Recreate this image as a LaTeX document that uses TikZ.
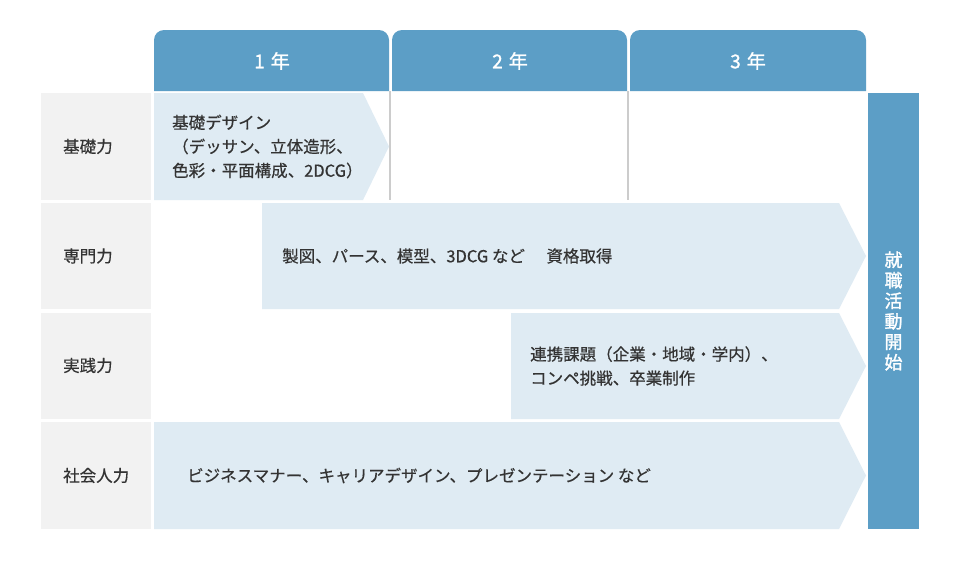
\documentclass[tikz,border=0pt]{standalone}
\usepackage{fontspec}
\setmainfont{Noto Sans CJK JP}[FakeBold=0.5]
\newfontfamily\hdrfont{Noto Sans CJK JP}[FakeBold=1.4]
\begin{document}
\begin{tikzpicture}[x=1pt,y=-1pt,
  hdr/.style={fill=hdrblue},
  lbl/.style={fill=lblgray},
  band/.style={fill=bandblue},
  grid/.style={draw=gridgray,line width=1.2pt},
  txt/.style={text=txtgray,font=\fontsize{16.5}{24}\selectfont,inner sep=0pt,anchor=west,align=left},
  htxt/.style={text=white,font=\hdrfont\fontsize{19}{22}\selectfont,inner sep=0pt},
  vtxt/.style={text=white,font=\hdrfont\fontsize{18}{20.5}\selectfont,inner sep=0pt,align=center}]
\definecolor{hdrblue}{HTML}{5C9EC6}
\definecolor{lblgray}{HTML}{F2F2F2}
\definecolor{bandblue}{HTML}{DFEBF3}
\definecolor{gridgray}{HTML}{CCCCCC}
\definecolor{txtgray}{HTML}{333333}
\useasboundingbox (0,0) rectangle (960,560);
\fill[white] (0,0) rectangle (960,560);
% header tabs
\foreach \a/\b in {154/389,392/627,630/866}{
  \path[hdr] (\a,91) [rounded corners=10] -- (\a,30) -- (\b,30) [sharp corners] -- (\b,91) -- cycle;
}
\node[htxt] (y1) at (272,61) {1\hspace{6pt}年};
\node[htxt] (y2) at (510,61) {2\hspace{6pt}年};
\node[htxt] (y3) at (748,61) {3\hspace{6pt}年};
% row labels
\path[lbl] (41,93) rectangle (151,200);
\path[lbl] (41,203) rectangle (151,309);
\path[lbl] (41,313) rectangle (151,419);
\path[lbl] (41,422) rectangle (151,529);
\node[txt] (r1) at (63,146.5) {基礎力};
\node[txt] (r2) at (63,256) {専門力};
\node[txt] (r3) at (63,365.5) {実践力};
\node[txt] (r4) at (63,475.5) {社会人力};
% grid lines
\draw[grid] (390,91) -- (390,200);
\draw[grid] (628,91) -- (628,200);
% bands
\path[band] (154,93) -- (363,93) -- (389,146.5) -- (363,200) -- (154,200) -- cycle;
\path[band] (262,203) -- (839,203) -- (866,256) -- (839,309) -- (262,309) -- cycle;
\path[band] (511,313) -- (839,313) -- (866,366) -- (839,419) -- (511,419) -- cycle;
\path[band] (154,422) -- (839,422) -- (866,475.5) -- (839,529) -- (154,529) -- cycle;
\node[txt] (b1) at (172,146.5) {基礎デザイン\\（デッサン、立体造形、\\色彩・平面構成、2DCG）};
\node[txt] (b2) at (282,256) {製図、パース、模型、3DCG など　\hspace{5pt}資格取得};
\node[txt] (b3) at (530,366) {連携課題（企業・地域・学内）、\\コンペ挑戦、卒業制作};
\node[txt] (b4) at (187,475.5) {ビジネスマナー、キャリアデザイン、プレゼンテーション など};
% right column
\path[hdr] (868,93) rectangle (919,529);
\node[vtxt] (job) at (893.5,311) {就\\職\\活\\動\\開\\始};
\end{tikzpicture}
\end{document}
